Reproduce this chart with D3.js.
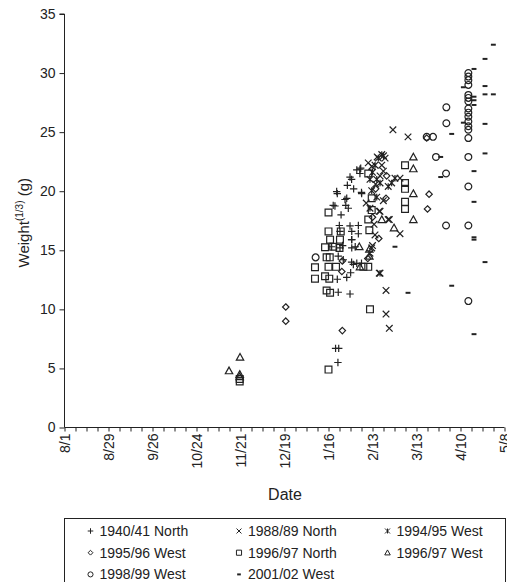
<!DOCTYPE html>
<html lang="en">
<head>
    <meta charset="UTF-8">
    <title>Weight by date</title>
    <style>
        body { margin: 0; background: #fff; }
        svg { display: block; font-family: "Liberation Sans", Arial, sans-serif; }
        .axis path, .axis line { stroke: #222; }
        .axis text { fill: #222; font-size: 13px; }
        .mark { fill: none; stroke: #222; stroke-width: 1.2; }
    </style>
</head>
<body>
    <svg id="chart"></svg>
    <script src="https://cdnjs.cloudflare.com/ajax/libs/d3/7.9.0/d3.min.js"></script>
    <script>
        // days counted from 8/1, values are Weight^(1/3) in g
        const dateLabels = ["8/1", "8/29", "9/26", "10/24", "11/21", "12/19", "1/16", "2/13", "3/13", "4/10", "5/8"];
        const yTicks = [0, 5, 10, 15, 20, 25, 30, 35];

        const north1940 = [
            [172.5, 6.7], [174.5, 6.7], [174, 5.5], [174.2, 11.45], [181.7, 11.3], [173.6, 12.55], [179.6, 12.7],
            [182.1, 13.1], [174.2, 14.5], [182.7, 14.0], [186, 13.9], [189, 13.9], [186, 21.8], [181.7, 21.2],
            [180, 20.5], [173.6, 19.8], [172.1, 18.75], [179, 18.8], [174.9, 17.1], [181.7, 17.06], [175.3, 16.6],
            [182.8, 16.6], [182.8, 15.9], [182.8, 15.2], [175.3, 15.2], [177.4, 14.2], [183.8, 13.8], [188, 21.86],
            [188, 21.5], [182.7, 21.0], [189, 19.9], [173.2, 19.97], [178.5, 19.3], [180.6, 18.56], [187, 17.1],
            [187, 16.4], [182.7, 15.9], [188.5, 21.95], [189.1, 19.8], [171, 18.8], [179.6, 19.4], [177, 15.4],
            [185, 15.3], [170, 15.3], [184, 20.2], [176, 18.0]
        ];
        const north1988 = [
            [193.3, 22.4], [195.5, 22.1], [201.9, 22.2], [202.9, 21.7], [200.8, 21.3], [200.8, 18.3], [206, 17.6],
            [213.5, 16.4], [197.6, 16.3], [195.5, 15.2], [196, 15.4], [200.3, 13.06], [204.6, 11.6], [204.6, 9.6],
            [206.7, 8.4], [209, 25.2], [218.6, 24.6], [213.5, 21.1], [206.7, 17.6], [200.3, 18.3], [202.9, 19.2],
            [198, 20.6], [204, 22.8], [199, 22.9], [197, 17.2], [192, 19.0]
        ];
        const west1994 = [
            [201.9, 23.1], [199.7, 22.8], [197.6, 22.2], [198.7, 21.0], [200.8, 20.7], [206, 20.4], [210.3, 21.1],
            [208.2, 20.7], [194.4, 21.0], [195.5, 20.05], [198.7, 19.5], [194.4, 18.56], [194.4, 14.75],
            [200.8, 13.06], [203, 23.0], [196, 21.6]
        ];
        const west1995 = [
            [140.8, 10.2], [140.8, 9.0], [176.8, 8.2], [176.8, 14.1], [176.5, 13.2], [204.6, 19.4], [196, 17.8],
            [200, 16.0], [193, 14.3], [230.5, 24.5], [232, 19.75], [231, 18.5], [205, 21.3], [198, 20.2]
        ];
        const north1996 = [
            [111.5, 4.1], [111.5, 3.9], [168, 4.9], [168, 18.2], [168, 16.6], [169, 15.9], [175.3, 15.9],
            [175.8, 16.6], [165.8, 15.26], [166.8, 14.4], [168.8, 14.4], [159.4, 13.56], [168, 13.6], [159.4, 12.6],
            [165.8, 12.8], [168.5, 12.6], [166.8, 11.6], [169, 11.4], [194.4, 10.0], [216.7, 22.2], [216.7, 20.7],
            [216.7, 20.2], [216.7, 19.1], [216.7, 18.5], [193.3, 21.5], [195.5, 19.4], [195.5, 18.4], [193.3, 17.6],
            [194, 16.7], [172.8, 13.6], [190.2, 13.6], [193.3, 13.6], [175, 15.2], [171, 15.3]
        ];
        const west1996 = [
            [104.7, 4.8], [111.7, 5.95], [111.5, 4.5], [111.5, 4.3], [187.6, 15.3], [188, 13.6], [194, 14.5],
            [201.9, 17.6], [209.7, 16.9], [222, 22.9], [222, 21.9], [222, 19.8], [222, 17.6], [194, 15.1]
        ];
        const west1998 = [
            [159.8, 14.4], [230.5, 24.6], [234.5, 24.6], [236.4, 22.9], [243, 27.1], [243, 25.75], [242.8, 21.5],
            [242.8, 17.1], [257, 30.0], [257, 29.7], [257, 29.4], [257, 29.0], [257, 28.15], [257, 27.9],
            [257, 27.6], [257, 27.0], [257, 26.65], [257, 26.3], [257, 25.9], [257, 25.5], [257, 25.2],
            [257, 24.5], [257, 22.9], [257, 20.4], [257, 17.1], [257, 10.7]
        ];
        const west2001 = [
            [272.9, 32.4], [267.6, 31.2], [260.6, 30.35], [253.8, 28.8], [267.6, 28.9], [267.6, 28.2], [272.9, 28.2],
            [260.6, 28.0], [260.6, 27.7], [260.6, 27.3], [253.8, 25.8], [267.6, 25.7], [246.4, 24.85], [267.6, 23.2],
            [239.4, 22.9], [260.6, 21.7], [239.4, 21.2], [260.6, 19.1], [260.6, 16.1], [260.6, 15.9], [267.6, 14.0],
            [246.4, 12.0], [218.6, 11.4], [260.6, 7.9], [210.3, 15.3]
        ];

        // marker shapes
        const shapes = {
            plus: s => `M${-s},0H${s}M0,${-s}V${s}`,
            cross: s => `M${-s},${-s}L${s},${s}M${-s},${s}L${s},${-s}`,
            star: s => `M${-s},${-s}L${s},${s}M${-s},${s}L${s},${-s}M0,${-s}V${s}`,
            diamond: s => `M0,${-s}L${s},0L0,${s}L${-s},0Z`,
            square: s => `M${-s},${-s}H${s}V${s}H${-s}Z`,
            triangle: s => `M0,${-s}L${s},${s * 0.8}H${-s}Z`,
            circle: s => `M${s},0A${s},${s} 0 1,1 ${-s},0A${s},${s} 0 1,1 ${s},0`,
            dash: s => `M${-s * 0.7},0H${s * 0.7}`
        };

        const series = [
            { name: "1940/41 North", data: north1940, shape: "plus", size: 3.7 },
            { name: "1988/89 North", data: north1988, shape: "cross", size: 3.3 },
            { name: "1994/95 West", data: west1994, shape: "star", size: 3.3 },
            { name: "1995/96 West", data: west1995, shape: "diamond", size: 3.2 },
            { name: "1996/97 North", data: north1996, shape: "square", size: 3.4 },
            { name: "1996/97 West", data: west1996, shape: "triangle", size: 3.7 },
            { name: "1998/99 West", data: west1998, shape: "circle", size: 3.4 },
            { name: "2001/02 West", data: west2001, shape: "dash", size: 3.5 }
        ];

        const width = 507, height = 582;
        const margin = { left: 64.5, right: 2.5, top: 14, bottom: 154.5 };

        const svg = d3.select("#chart").attr("width", width).attr("height", height);

        const x = d3.scaleLinear().domain([0, 280]).range([margin.left, width - margin.right]);
        const y = d3.scaleLinear().domain([0, 35]).range([height - margin.bottom, margin.top]);

        // y axis
        svg.append("g")
            .attr("class", "axis")
            .attr("transform", `translate(${margin.left},0)`)
            .call(d3.axisLeft(y).tickValues(yTicks).tickSize(5).tickPadding(4))
            .call(g => g.select(".domain").attr("d", `M-5,${y(35)}H0V${y(0)}`))
            .selectAll("text").style("font-size", "14px");

        // x axis: weekly ticks, labels every four weeks
        const xAxis = svg.append("g")
            .attr("class", "axis")
            .attr("transform", `translate(0,${y(0)})`)
            .call(d3.axisBottom(x).tickValues(d3.range(0, 281, 7)).tickSize(4)
                .tickFormat(d => d % 28 === 0 ? dateLabels[d / 28] : ""));
        xAxis.select(".domain").attr("d", `M${x(0)},0H${x(280)}`);
        xAxis.selectAll("text")
            .attr("transform", "rotate(-90)")
            .attr("text-anchor", "end")
            .attr("x", -6)
            .attr("y", 0)
            .attr("dy", "0.35em")
            .style("font-size", "14px");

        // axis titles
        const yTitle = svg.append("text")
            .attr("transform", `translate(29,${(y(0) + y(35)) / 2 + 2}) rotate(-90)`)
            .attr("text-anchor", "middle")
            .style("font-size", "15px")
            .attr("fill", "#222");
        yTitle.append("tspan").text("Weight");
        yTitle.append("tspan").attr("dy", -6).style("font-size", "10px").text("(1/3)");
        yTitle.append("tspan").attr("dy", 6).text(" (g)");

        svg.append("text")
            .attr("x", 285).attr("y", 500)
            .attr("text-anchor", "middle")
            .style("font-size", "16px")
            .attr("fill", "#222")
            .text("Date");

        // points
        series.forEach(s => {
            svg.append("g").selectAll("path")
                .data(s.data)
                .join("path")
                .attr("class", "mark")
                .attr("transform", d => `translate(${x(d[0])},${y(d[1])})`)
                .attr("d", shapes[s.shape](s.size))
                .style("stroke-width", s.shape === "dash" ? 2 : null);
        });

        // legend
        const legend = svg.append("g").attr("transform", "translate(64.5,518.5)");
        legend.append("rect")
            .attr("width", 441).attr("height", 80)
            .attr("fill", "none").attr("stroke", "#222");

        const item = legend.selectAll(".item")
            .data(series)
            .join("g")
            .attr("class", "item")
            .attr("transform", (d, i) => `translate(${26 + (i % 3) * 148.5},${12.5 + Math.floor(i / 3) * 21.7})`);

        item.append("path")
            .attr("class", "mark")
            .attr("d", d => shapes[d.shape](d.size * 0.75))
            .style("stroke-width", d => d.shape === "dash" ? 2 : 1);

        item.append("text")
            .attr("x", 9).attr("dy", "0.35em")
            .style("font-size", "14px")
            .attr("fill", "#222")
            .text(d => d.name);
    </script>
</body>
</html>
